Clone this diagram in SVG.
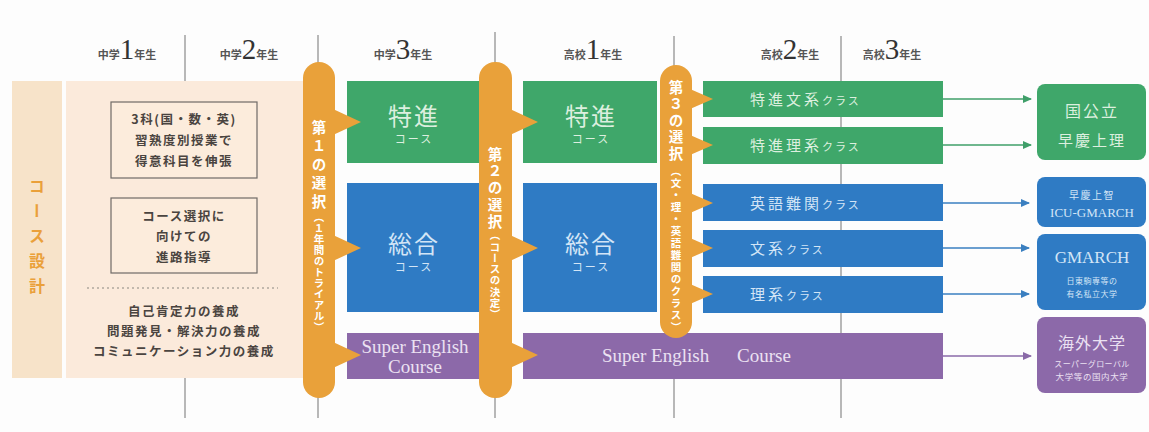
<svg xmlns="http://www.w3.org/2000/svg" width="1149" height="432" viewBox="0 0 1149 432">
<style>
.jp{font-family:"Noto Sans CJK JP","Noto Sans",sans-serif}
.ser{font-family:"Liberation Serif","Noto Sans CJK JP",serif}
.hs{font-size:11px;font-weight:700;fill:#555}
.hn{font-family:"Liberation Serif",serif;font-size:29px;fill:#333}
.yl{stroke:#8a8a8a;stroke-width:1.2}
.pill{fill:#e9a13a}
.ptxt{font-family:"Noto Sans CJK JP",sans-serif;font-weight:700;fill:#fff;writing-mode:vertical-rl}
.g{fill:#3fa76a}.b{fill:#2f7bc4}.p{fill:#8c69a9}
.tg{fill:#dcefdf}.tb{fill:#d3e5f6}.tp{fill:#ebe1f2}
.inner{fill:#fcecdc;stroke:#6f6a66;stroke-width:1.2}
.dark{font-family:"Noto Sans CJK JP",sans-serif;font-weight:700;font-size:12.5px;fill:#4a4440;letter-spacing:1.5px}
.cg{stroke:#3f9f69;stroke-width:1.6;fill:none}
.cb{stroke:#3a7fc0;stroke-width:1.6;fill:none}
.cp{stroke:#8a6aa8;stroke-width:1.6;fill:none}
</style>
<defs>
<marker id="ag" markerWidth="9" markerHeight="8" refX="8" refY="4" orient="auto" markerUnits="userSpaceOnUse"><path d="M0,0 L9,4 L0,8 Z" fill="#3f9f69"/></marker>
<marker id="ab" markerWidth="9" markerHeight="8" refX="8" refY="4" orient="auto" markerUnits="userSpaceOnUse"><path d="M0,0 L9,4 L0,8 Z" fill="#3a7fc0"/></marker>
<marker id="ap" markerWidth="9" markerHeight="8" refX="8" refY="4" orient="auto" markerUnits="userSpaceOnUse"><path d="M0,0 L9,4 L0,8 Z" fill="#8a6aa8"/></marker>
</defs>
<rect width="1149" height="432" fill="#fdfdfd"/>

<g id="timeline">
<line class="yl" x1="185" y1="35" x2="185" y2="82"/>
<line class="yl" x1="185" y1="378" x2="185" y2="418"/>
<line class="yl" x1="318" y1="35" x2="318" y2="66"/>
<line class="yl" x1="318" y1="396" x2="318" y2="418"/>
<line class="yl" x1="495" y1="32" x2="495" y2="66"/>
<line class="yl" x1="495" y1="396" x2="495" y2="418"/>
<line class="yl" x1="674" y1="36" x2="674" y2="68"/>
<line class="yl" x1="674" y1="378" x2="674" y2="418"/>
<line class="yl" x1="841" y1="36" x2="841" y2="418"/>
</g>

<g id="header" class="jp">
<text x="127" y="59" text-anchor="middle"><tspan class="hs">中学</tspan><tspan class="hn">1</tspan><tspan class="hs">年生</tspan></text>
<text x="249" y="59" text-anchor="middle"><tspan class="hs">中学</tspan><tspan class="hn">2</tspan><tspan class="hs">年生</tspan></text>
<text x="403" y="59" text-anchor="middle"><tspan class="hs">中学</tspan><tspan class="hn">3</tspan><tspan class="hs">年生</tspan></text>
<text x="593" y="59" text-anchor="middle"><tspan class="hs">高校</tspan><tspan class="hn">1</tspan><tspan class="hs">年生</tspan></text>
<text x="790" y="59" text-anchor="middle"><tspan class="hs">高校</tspan><tspan class="hn">2</tspan><tspan class="hs">年生</tspan></text>
<text x="892" y="59" text-anchor="middle"><tspan class="hs">高校</tspan><tspan class="hn">3</tspan><tspan class="hs">年生</tspan></text>
</g>

<g id="course-design">
<rect x="12" y="81" width="50" height="297" fill="#f7e3c9"/>
<text x="37" y="178" class="jp" font-size="16" font-weight="700" fill="#eaa03a" letter-spacing="9" style="writing-mode:vertical-rl">コース設計</text>
</g>

<g id="junior-content">
<rect x="66" y="81" width="240" height="297" fill="#fbeadb"/>
<rect class="inner" x="111" y="102" width="146" height="76"/>
<text class="dark" x="184" y="124" text-anchor="middle">3科(国・数・英)</text>
<text class="dark" x="184" y="145" text-anchor="middle">習熟度別授業で</text>
<text class="dark" x="184" y="166" text-anchor="middle">得意科目を伸張</text>
<rect class="inner" x="111" y="198" width="146" height="75"/>
<text class="dark" x="184" y="221" text-anchor="middle">コース選択に</text>
<text class="dark" x="184" y="241" text-anchor="middle">向けての</text>
<text class="dark" x="184" y="262" text-anchor="middle">進路指導</text>
<line x1="87" y1="288" x2="278" y2="288" stroke="#8a8580" stroke-width="1.2" stroke-dasharray="2,3"/>
<text class="dark" x="184" y="316" text-anchor="middle" letter-spacing="1">自己肯定力の養成</text>
<text class="dark" x="184" y="336" text-anchor="middle" letter-spacing="0.5">問題発見・解決力の養成</text>
<text class="dark" x="184" y="356" text-anchor="middle" letter-spacing="0">コミュニケーション力の養成</text>
</g>

<g id="j3-tokushin">
<rect class="g" x="347" y="81" width="132" height="82"/>
<text class="jp tg" x="414" y="125" font-size="24" text-anchor="middle" letter-spacing="2">特進</text>
<text class="jp tg" x="414" y="143" font-size="11" text-anchor="middle" letter-spacing="2">コース</text>
</g>
<g id="j3-sogo">
<rect class="b" x="347" y="183" width="132" height="129"/>
<text class="jp tb" x="414" y="253" font-size="24" text-anchor="middle" letter-spacing="2">総合</text>
<text class="jp tb" x="414" y="271" font-size="11" text-anchor="middle" letter-spacing="2">コース</text>
</g>
<g id="j3-sec">
<rect class="p" x="347" y="333" width="132" height="46"/>
<text class="ser tp" x="415" y="353" font-size="19" text-anchor="middle">Super English</text>
<text class="ser tp" x="415" y="373" font-size="19" text-anchor="middle">Course</text>
</g>

<g id="h1-tokushin">
<rect class="g" x="523" y="81" width="134" height="82"/>
<text class="jp tg" x="591" y="125" font-size="24" text-anchor="middle" letter-spacing="2">特進</text>
<text class="jp tg" x="591" y="143" font-size="11" text-anchor="middle" letter-spacing="2">コース</text>
</g>
<g id="h1-sogo">
<rect class="b" x="523" y="183" width="134" height="129"/>
<text class="jp tb" x="591" y="253" font-size="24" text-anchor="middle" letter-spacing="2">総合</text>
<text class="jp tb" x="591" y="271" font-size="11" text-anchor="middle" letter-spacing="2">コース</text>
</g>
<g id="h-sec">
<rect class="p" x="523" y="333" width="420" height="46"/>
<text class="ser tp" x="602" y="362" font-size="19">Super English</text>
<text class="ser tp" x="737" y="362" font-size="19">Course</text>
</g>

<g id="h2-classes">
<g id="tokushin-bunkei"><rect class="g" x="703" y="81" width="240" height="36"/>
<text class="jp tg" x="750" y="105"><tspan font-size="15" letter-spacing="3">特進文系</tspan><tspan font-size="11" letter-spacing="2">クラス</tspan></text></g>
<g id="tokushin-rikei"><rect class="g" x="703" y="127" width="240" height="37"/>
<text class="jp tg" x="750" y="151"><tspan font-size="15" letter-spacing="3">特進理系</tspan><tspan font-size="11" letter-spacing="2">クラス</tspan></text></g>
<g id="eigo-nankan"><rect class="b" x="703" y="184" width="240" height="37"/>
<text class="jp tb" x="750" y="209"><tspan font-size="15" letter-spacing="3">英語難関</tspan><tspan font-size="11" letter-spacing="2">クラス</tspan></text></g>
<g id="bunkei"><rect class="b" x="703" y="230" width="240" height="37"/>
<text class="jp tb" x="750" y="254"><tspan font-size="15" letter-spacing="3">文系</tspan><tspan font-size="11" letter-spacing="2">クラス</tspan></text></g>
<g id="rikei"><rect class="b" x="703" y="276" width="240" height="37"/>
<text class="jp tb" x="750" y="300"><tspan font-size="15" letter-spacing="3">理系</tspan><tspan font-size="11" letter-spacing="2">クラス</tspan></text></g>
</g>

<g id="choice1">
<rect class="pill" x="303" y="62" width="32" height="336" rx="16"/>
<polygon class="pill" points="333,109 361,122 333,135"/>
<polygon class="pill" points="333,235 361,248 333,261"/>
<polygon class="pill" points="333,342 361,355 333,368"/>
<text class="ptxt" x="319" y="120" font-size="14.5" letter-spacing="4">第１の選択</text>
<text class="ptxt" x="319" y="212" font-size="10.5" letter-spacing="0.5">（１年間のトライアル）</text>
</g>
<g id="choice2">
<rect class="pill" x="479" y="62" width="33" height="336" rx="16"/>
<polygon class="pill" points="510,109 538,122 510,135"/>
<polygon class="pill" points="510,235 538,248 510,261"/>
<polygon class="pill" points="510,342 538,355 510,368"/>
<text class="ptxt" x="495" y="147" font-size="14.5" letter-spacing="2.2">第２の選択</text>
<text class="ptxt" x="495" y="230" font-size="10.5" letter-spacing="0.8">（コースの決定）</text>
</g>
<g id="choice3">
<rect class="pill" x="660" y="65" width="32" height="273" rx="16"/>
<polygon class="pill" points="690,89 713,99 690,109"/>
<polygon class="pill" points="690,135 713,145 690,155"/>
<polygon class="pill" points="690,193 713,203 690,213"/>
<polygon class="pill" points="690,238 713,248 690,258"/>
<polygon class="pill" points="690,284 713,294 690,304"/>
<text class="ptxt" x="676" y="80" font-size="14.5" letter-spacing="2">第３の選択</text>
<text class="ptxt" x="676" y="166" font-size="10.5" letter-spacing="1.5">（文・理・英語難関のクラス）</text>
</g>

<g id="connectors">
<line class="cg" x1="943" y1="99" x2="1031" y2="99" marker-end="url(#ag)"/>
<line class="cg" x1="943" y1="145" x2="1031" y2="145" marker-end="url(#ag)"/>
<line class="cb" x1="943" y1="203" x2="1029" y2="203" marker-end="url(#ab)"/>
<line class="cb" x1="943" y1="248" x2="1029" y2="248" marker-end="url(#ab)"/>
<line class="cb" x1="943" y1="294" x2="1029" y2="294" marker-end="url(#ab)"/>
<line class="cp" x1="943" y1="356" x2="1031" y2="356" marker-end="url(#ap)"/>
</g>

<g id="dest-kokkoritsu">
<rect class="g" x="1037" y="84" width="109" height="76" rx="8"/>
<text class="jp tg" x="1092" y="117" font-size="16" text-anchor="middle" letter-spacing="2">国公立</text>
<text class="jp tg" x="1092" y="146" font-size="15" text-anchor="middle" letter-spacing="2">早慶上理</text>
</g>
<g id="dest-soukei">
<rect class="b" x="1037" y="177" width="109" height="50" rx="8"/>
<text class="jp tb" x="1092" y="199" font-size="10" text-anchor="middle" letter-spacing="1.5">早慶上智</text>
<text class="ser tb" x="1092" y="217" font-size="13" text-anchor="middle">ICU-GMARCH</text>
</g>
<g id="dest-gmarch">
<rect class="b" x="1037" y="234" width="109" height="76" rx="8"/>
<text class="ser tb" x="1092" y="263" font-size="17" text-anchor="middle">GMARCH</text>
<text class="jp tb" x="1092" y="284" font-size="8" text-anchor="middle" letter-spacing="0.5">日東駒専等の</text>
<text class="jp tb" x="1092" y="297" font-size="8" text-anchor="middle" letter-spacing="0.5">有名私立大学</text>
</g>
<g id="dest-kaigai">
<rect class="p" x="1037" y="317" width="109" height="76" rx="8"/>
<text class="jp tp" x="1092" y="349" font-size="16" text-anchor="middle" letter-spacing="1">海外大学</text>
<text class="jp tp" x="1092" y="367" font-size="8" text-anchor="middle" letter-spacing="0.4">スーパーグローバル</text>
<text class="jp tp" x="1092" y="380" font-size="8.5" text-anchor="middle" letter-spacing="0.6">大学等の国内大学</text>
</g>
</svg>
